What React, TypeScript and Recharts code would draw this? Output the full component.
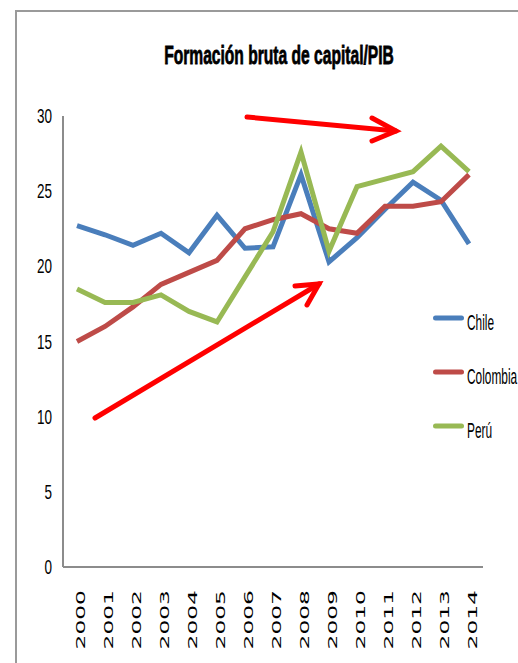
import { LineChart, Line, XAxis, YAxis } from 'recharts'

const years = ['2000', '2001', '2002', '2003', '2004', '2005', '2006', '2007', '2008', '2009', '2010', '2011', '2012', '2013', '2014']
const chile = [22.7, 22.1, 21.4, 22.2, 20.9, 23.4, 21.2, 21.3, 26.1, 20.3, 21.9, 23.8, 25.6, 24.4, 21.5]
const colombia = [15.0, 16.0, 17.3, 18.8, 19.6, 20.4, 22.5, 23.1, 23.5, 22.5, 22.2, 24.0, 24.0, 24.3, 26.1]
const peru = [18.5, 17.6, 17.6, 18.1, 17.0, 16.3, 19.3, 22.3, 27.6, 21.0, 25.3, 25.8, 26.3, 28.0, 26.3]
const yTicks = [0, 5, 10, 15, 20, 25, 30]

const series = [
  { key: 'chile', name: 'Chile', color: '#4a7ebb' },
  { key: 'colombia', name: 'Colombia', color: '#be4b48' },
  { key: 'peru', name: 'Perú', color: '#98b954' },
]

const data = years.map((year, i) => ({ year, chile: chile[i], colombia: colombia[i], peru: peru[i] }))

// no Calibri here, so squeeze Liberation Sans horizontally to get the narrow look
const FONT = "'Liberation Sans', Arial, sans-serif"

const YearTick = (props: any) => {
  const { x, y, payload } = props
  return (
    <g transform={`translate(${x + 8},${y + 15}) rotate(-90) scale(1.8,1)`}>
      <text textAnchor="end" fontFamily="'DejaVu Sans', Verdana, sans-serif" fontSize={13} fill="#000">
        {payload.value}
      </text>
    </g>
  )
}

const ValueTick = (props: any) => {
  const { x, y, payload } = props
  return (
    <g transform={`translate(${x},${y + 7}) scale(0.675,1)`}>
      <text textAnchor="end" fontFamily={FONT} fontSize={20} fill="#000">
        {payload.value}
      </text>
    </g>
  )
}

export default function App() {
  return (
    <div style={{ position: 'absolute', left: 0, top: 0, width: 518, height: 663, background: '#fff', overflow: 'hidden' }}>
      {/* frame of the pasted chart */}
      <div style={{ position: 'absolute', left: 15, top: 10, width: 503, height: 653, borderLeft: '2px solid #9a9a9a', borderTop: '2px solid #9a9a9a' }} />
      <div style={{ position: 'absolute', left: 0, top: 0 }}>
        <LineChart width={518} height={663} data={data} margin={{ top: 116, right: 35, bottom: 0, left: 0 }}>
          <XAxis
            dataKey="year"
            height={96}
            padding={{ left: 14, right: 14 }}
            axisLine={{ stroke: '#8c8c8c', strokeWidth: 2 }}
            tickLine={false}
            interval={0}
            tick={<YearTick />}
          />
          <YAxis
            width={63}
            domain={[0, 30]}
            ticks={yTicks}
            interval={0}
            axisLine={{ stroke: '#8c8c8c', strokeWidth: 2 }}
            tickLine={false}
            tickMargin={5}
            tick={<ValueTick />}
          />
          {series.map((s) => (
            <Line
              key={s.key}
              dataKey={s.key}
              name={s.name}
              type="linear"
              stroke={s.color}
              strokeWidth={5}
              dot={false}
              isAnimationActive={false}
            />
          ))}
        </LineChart>
      </div>
      <svg width={518} height={663} style={{ position: 'absolute', left: 0, top: 0, pointerEvents: 'none' }}>
        <g transform="translate(279,64) scale(0.6,1)">
          <text textAnchor="middle" fontFamily={FONT} fontWeight="bold" fontSize={26} fill="#000" stroke="#000" strokeWidth={0.8}>
            Formación bruta de capital/PIB
          </text>
        </g>
        {/* legend */}
        {series.map((s, i) => (
          <g key={s.key}>
            <line x1={435.5} x2={461.5} y1={318 + i * 54} y2={318 + i * 54} stroke={s.color} strokeWidth={5} strokeLinecap="round" />
            <g transform={`translate(467,${330 + i * 54}) scale(0.54,1)`}>
              <text fontFamily={FONT} fontSize={22} fill="#000">
                {s.name}
              </text>
            </g>
          </g>
        ))}
        {/* red annotation arrows */}
        <g stroke="#ff0000" strokeWidth={5} strokeLinecap="round" fill="none">
          <line x1={247} y1={117} x2={396} y2={131} />
          <polyline points="372,118 396,131 372,141" />
          <line x1={95} y1={418} x2={319} y2={284} />
          <polyline points="295,286 319,284 307,305" />
        </g>
      </svg>
    </div>
  )
}
